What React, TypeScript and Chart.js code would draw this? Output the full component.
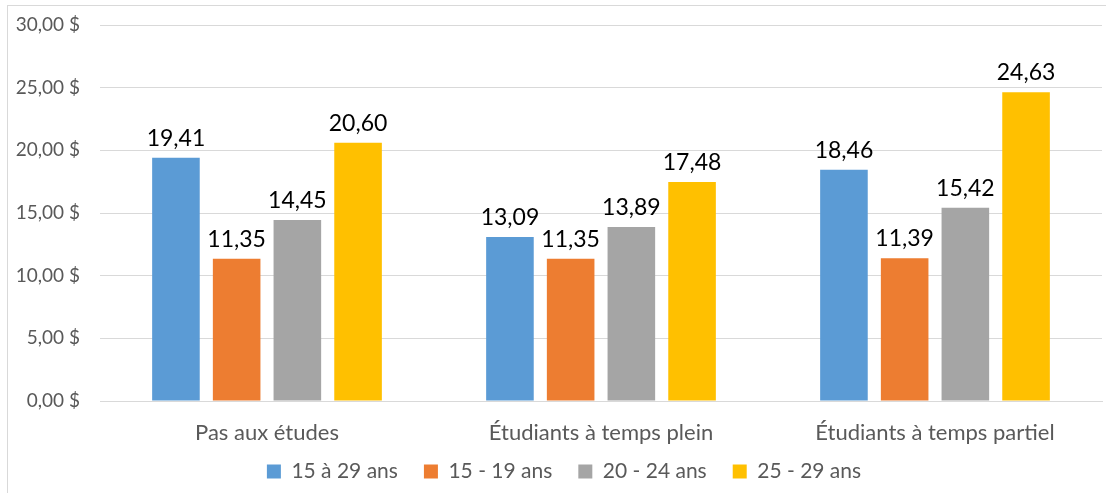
import React, { useEffect, useRef } from "react";
import { Chart, registerables } from "chart.js";

Chart.register(...registerables);

const categories = ["Pas aux études", "Étudiants à temps plein", "Étudiants à temps partiel"];
const seriesNames = ["15 à 29 ans", "15 - 19 ans", "20 - 24 ans", "25 - 29 ans"];
const s15to29 = [19.41, 13.09, 18.46];
const s15to19 = [11.35, 11.35, 11.39];
const s20to24 = [14.45, 13.89, 15.42];
const s25to29 = [20.6, 17.48, 24.63];
const seriesColors = ["#5B9BD5", "#ED7D31", "#A5A5A5", "#FFC000"];
const yMin = 0;
const yMax = 30;
const yStep = 5;

const FONT = "Lato, 'Open Sans', sans-serif";

const fmt = (v: number) => v.toFixed(2).replace(".", ",");

const valueLabels = {
  id: "valueLabels",
  afterDatasetsDraw(chart: any) {
    const ctx = chart.ctx;
    ctx.save();
    ctx.font = `23px ${FONT}`;
    ctx.fillStyle = "#000000";
    ctx.textAlign = "center";
    ctx.textBaseline = "alphabetic";
    chart.data.datasets.forEach((ds: any, i: number) => {
      const meta = chart.getDatasetMeta(i);
      meta.data.forEach((el: any, j: number) => {
        ctx.fillText(fmt(ds.data[j]), el.x, el.y - 12);
      });
    });
    ctx.restore();
  },
};

const legendShift = {
  id: "legendShift",
  afterLayout(chart: any) {
    const lg = chart.legend;
    if (lg) {
      lg.left += 9;
      lg.right += 9;
    }
  },
};

export default function App() {
  const ref = useRef<HTMLCanvasElement | null>(null);
  useEffect(() => {
    if (!ref.current) return;
    const all = [s15to29, s15to19, s20to24, s25to29];
    const chart = new Chart(ref.current, {
      type: "bar",
      data: {
        labels: categories,
        datasets: all.map((d, i) => ({
          label: seriesNames[i],
          data: d,
          backgroundColor: seriesColors[i],
          borderWidth: 0,
          categoryPercentage: 0.727,
          barPercentage: 0.784,
        })),
      },
      options: {
        responsive: false,
        animation: false,
        devicePixelRatio: 1,
        layout: { padding: { top: 19, right: 4, left: 0, bottom: 0 } },
        plugins: {
          tooltip: { enabled: false },
          legend: {
            position: "bottom",
            labels: {
              boxWidth: 14,
              boxHeight: 14,
              padding: 26,
              color: "#595959",
              font: { family: FONT, size: 21 },
            },
          },
        },
        scales: {
          x: {
            grid: { display: false, drawTicks: false },
            border: { display: true, color: "#d9d9d9" },
            ticks: {
              mirror: true,
              color: "#595959",
              font: { family: FONT, size: 22 },
              padding: -45,
            },
            afterFit: (s: any) => {
              s.height = 34;
            },
          },
          y: {
            min: yMin,
            max: yMax,
            grid: { color: "#d9d9d9", drawTicks: false },
            border: { display: false },
            ticks: {
              stepSize: yStep,
              color: "#595959",
              font: { family: FONT, size: 19 },
              padding: 20,
              callback: (v: any) => `${fmt(Number(v))} $`,
            },
            afterFit: (s: any) => {
              s.width = 92;
              s.paddingTop = 0;
              s.paddingBottom = 0;
            },
          },
        },
      },
      plugins: [valueLabels, legendShift],
    });
    return () => chart.destroy();
  }, []);
  return (
    <div
      style={{
        position: "absolute",
        left: 7,
        top: 5,
        width: 1099,
        height: 488,
        overflow: "hidden",
        borderTop: "1px solid #d9d9d9",
        borderLeft: "1px solid #d9d9d9",
        background: "#fff",
      }}
    >
      <canvas ref={ref} width={1098} height={486} style={{ display: "block" }} />
    </div>
  );
}
